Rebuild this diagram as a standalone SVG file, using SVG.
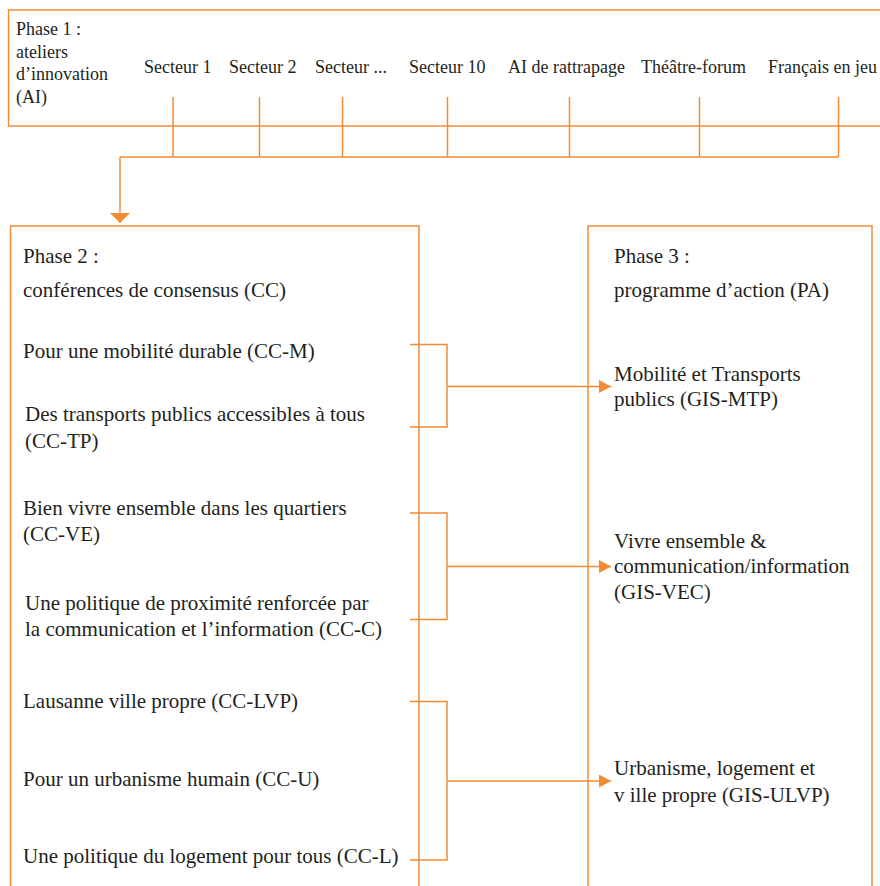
<svg xmlns="http://www.w3.org/2000/svg" width="880" height="886" viewBox="0 0 880 886">
<style>
.box{fill:none;stroke:#F58A35;stroke-width:1.5}
.ln{fill:none;stroke:#F58A35;stroke-width:1.5}
text{font-family:'Liberation Serif','Times New Roman','DejaVu Serif',serif;fill:#231F20}
.s18{font-size:18px}
.s21{font-size:21px}
</style>
<defs>
<marker id="ar" viewBox="0 0 12 13" markerWidth="12" markerHeight="13" refX="12" refY="6.5" orient="auto" markerUnits="userSpaceOnUse">
<path d="M0,0 L12,6.5 L0,13 z" fill="#F58A35"/>
</marker>
<marker id="ad" viewBox="0 0 10 20" markerWidth="10" markerHeight="20" refX="10" refY="10" orient="auto" markerUnits="userSpaceOnUse">
<path d="M0,0 L10,10 L0,20 z" fill="#F58A35"/>
</marker>
</defs>
<g font-family="Liberation Serif, Times New Roman, serif">
<g id="phase1">
<rect class="box" x="8.5" y="10" width="885" height="116"/>
<text class="s18" x="16" y="35">Phase 1 :</text>
<text class="s18" x="16" y="57.5">ateliers</text>
<text class="s18" x="16" y="80">d’innovation</text>
<text class="s18" x="16" y="102.5">(AI)</text>
</g>
<g id="secteur1"><text class="s18" x="144" y="73">Secteur 1</text></g>
<g id="secteur2"><text class="s18" x="229" y="73">Secteur 2</text></g>
<g id="secteurx"><text class="s18" x="315" y="73">Secteur ...</text></g>
<g id="secteur10"><text class="s18" x="409" y="73">Secteur 10</text></g>
<g id="rattrapage"><text class="s18" x="508" y="73">AI de rattrapage</text></g>
<g id="theatre"><text class="s18" x="641" y="73">Théâtre-forum</text></g>
<g id="francais"><text class="s18" x="768" y="73">Français en jeu</text></g>

<g id="phase2">
<path class="box" d="M10.5,895 V226 H419 V895"/>
<text class="s21" x="23" y="263">Phase 2 :</text>
<text class="s21" x="23" y="297">conférences de consensus (CC)</text>
</g>
<g id="cc-m"><text class="s21" x="23" y="357.5">Pour une mobilité durable (CC-M)</text></g>
<g id="cc-tp">
<text class="s21" x="25" y="421">Des transports publics accessibles à tous</text>
<text class="s21" x="25" y="447.5">(CC-TP)</text>
</g>
<g id="cc-ve">
<text class="s21" x="23" y="515">Bien vivre ensemble dans les quartiers</text>
<text class="s21" x="23" y="541">(CC-VE)</text>
</g>
<g id="cc-c">
<text class="s21" x="25" y="610">Une politique de proximité renforcée par</text>
<text class="s21" x="25" y="635.5">la communication et l’information (CC-C)</text>
</g>
<g id="cc-lvp"><text class="s21" x="23" y="708">Lausanne ville propre (CC-LVP)</text></g>
<g id="cc-u"><text class="s21" x="23" y="786">Pour un urbanisme humain (CC-U)</text></g>
<g id="cc-l"><text class="s21" x="23" y="863">Une politique du logement pour tous (CC-L)</text></g>

<g id="phase3">
<path class="box" d="M588,895 V226 H872 V895"/>
<text class="s21" x="614" y="263">Phase 3 :</text>
<text class="s21" x="614" y="297">programme d’action (PA)</text>
</g>
<g id="gis-mtp">
<text class="s21" x="614" y="381">Mobilité et Transports</text>
<text class="s21" x="614" y="406">publics (GIS-MTP)</text>
</g>
<g id="gis-vec">
<text class="s21" x="614" y="547.5">Vivre ensemble &amp;</text>
<text class="s21" x="614" y="573">communication/information</text>
<text class="s21" x="614" y="598.5">(GIS-VEC)</text>
</g>
<g id="gis-ulvp">
<text class="s21" x="614" y="775">Urbanisme, logement et</text>
<text class="s21" x="614" y="801.5">v ille propre (GIS-ULVP)</text>
</g>
</g>
<g id="connectors">
<path class="ln" d="M173,97 V157 M259.5,97 V157 M342.5,97 V157 M447.5,97 V157 M569.5,97 V157 M699.5,97 V157 M838.5,97 V157 M838.5,157 H120"/>
<path class="ln" d="M120,157 V223" marker-end="url(#ad)"/>
<path class="ln" d="M410,344.5 H447 V427 H410"/>
<path class="ln" d="M447,386.5 H611" marker-end="url(#ar)"/>
<path class="ln" d="M410,513 H447 V619.5 H410"/>
<path class="ln" d="M447,566.5 H611" marker-end="url(#ar)"/>
<path class="ln" d="M410,701.5 H447 V860 H410"/>
<path class="ln" d="M447,781 H611" marker-end="url(#ar)"/>
</g>
</svg>
